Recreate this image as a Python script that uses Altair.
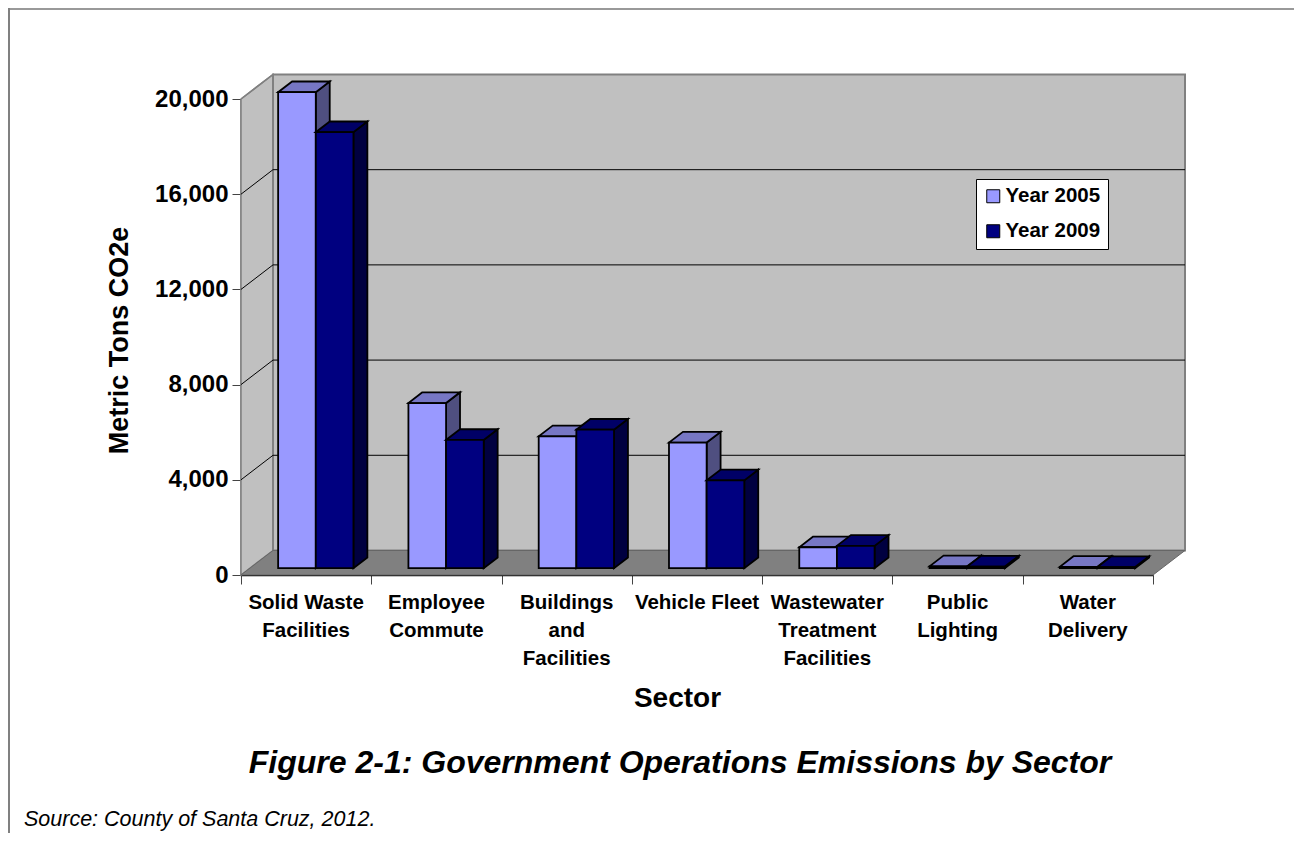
import altair as alt
import pandas as pd

categories = ["Solid Waste\nFacilities", "Employee\nCommute", "Buildings\nand\nFacilities",
              "Vehicle Fleet", "Wastewater\nTreatment\nFacilities", "Public\nLighting", "Water\nDelivery"]
year_2005 = [20000, 6940, 5540, 5280, 880, 80, 60]
year_2009 = [18320, 5390, 5820, 3690, 940, 70, 50]
series_names = ["Year 2005", "Year 2009"]
y_ticks = [0, 4000, 8000, 12000, 16000, 20000]

FONT = "Liberation Sans"
DX, DY = 0.2456, 1030          # depth of the chart box, in axis units
BAR_LEFT, BAR_W = 0.285, 0.289  # bar position inside a category
BAR_DX, BAR_DY = 0.107, 450    # depth of a bar, in axis units
BASE = 285                     # bars stand on the floor, a little behind the front edge
n = len(categories)

front_fill = {"Year 2005": "#9999FF", "Year 2009": "#000080"}
top_fill = {"Year 2005": "#7777C4", "Year 2009": "#000066"}
side_fill = {"Year 2005": "#4F4F80", "Year 2009": "#000040"}

fronts, tops, sides = [], [], []
for s, (name, vals) in enumerate(zip(series_names, [year_2005, year_2009])):
    for i, v in enumerate(vals):
        x0 = i + BAR_LEFT + s * BAR_W
        x1 = x0 + BAR_W
        t = v + BASE
        key = f"{name}-{i}"
        fronts.append(dict(series=name, cat=categories[i], value=v, x0=x0, x1=x1, top=t, base=BASE))
        tops.append(dict(series=name, id=key, y=t, xa=x0, xb=x1))
        tops.append(dict(series=name, id=key, y=t + BAR_DY, xa=x0 + BAR_DX, xb=x1 + BAR_DX))
        sides.append(dict(series=name, id=key, x=x1, ya=t, yb=BASE))
        sides.append(dict(series=name, id=key, x=x1 + BAR_DX, ya=t + BAR_DY, yb=BASE + BAR_DY))
fronts, tops, sides = pd.DataFrame(fronts), pd.DataFrame(tops), pd.DataFrame(sides)

AXIS_X = alt.Axis(values=list(range(n + 1)), labels=False, title="Sector", grid=False,
                  tickSize=9, tickColor="#444444", domainColor="#000000", domainWidth=1.5,
                  titleFont=FONT, titleFontWeight="bold", titleFontSize=28, titleColor="#000000",
                  titleX=436, titleY=109)
AXIS_Y = alt.Axis(values=y_ticks, format=",d", title="Metric Tons CO2e", grid=False,
                  labelFont=FONT, labelFontWeight="bold", labelFontSize=24, labelColor="#000000",
                  labelPadding=4, tickSize=9, tickColor="#444444", domainColor="#444444",
                  domainWidth=2, titleFont=FONT, titleFontWeight="bold", titleFontSize=27,
                  titleColor="#000000", titleX=-108, titleY=241, titleAngle=270)
X = lambda f: alt.X(f, type="quantitative", scale=alt.Scale(domain=[0, n], nice=False, zero=False), axis=AXIS_X)
Y = lambda f: alt.Y(f, type="quantitative", scale=alt.Scale(domain=[0, 20000], nice=False), axis=AXIS_Y, stack=None)

# box
wall_l = pd.DataFrame(dict(x=[0, DX], ya=[20000, 20000 + DY], yb=[0, DY]))
left_wall = alt.Chart(wall_l).mark_area(orient="vertical", color="#C0C0C0", stroke="#808080", strokeWidth=1.5).encode(
    x=X("x"), y=Y("ya"), y2="yb")
back_wall = alt.Chart(pd.DataFrame(dict(a=[DX], b=[n + DX], c=[DY], d=[20000 + DY]))).mark_rect(
    color="#C0C0C0", stroke="#808080", strokeWidth=2).encode(x=X("a"), x2="b", y=Y("c"), y2="d")
floor_d = pd.DataFrame(dict(y=[0, DY], xa=[0, DX], xb=[n, n + DX]))
floor = alt.Chart(floor_d).mark_area(orient="horizontal", color="#808080", stroke="#666666", strokeWidth=1).encode(
    y=Y("y"), x=X("xa"), x2="xb")

# gridlines
grid_vals = [v for v in y_ticks if 0 < v < 20000]
grid_back = alt.Chart(pd.DataFrame(dict(v=[v + DY for v in grid_vals], a=DX, b=n + DX))).mark_rule(
    color="#000000", strokeWidth=1).encode(x=X("a"), x2="b", y=Y("v"))
grid_side_d = pd.DataFrame([dict(id=v, x=x, y=v + d) for v in grid_vals for x, d in [(0, 0), (DX, DY)]])
grid_side = alt.Chart(grid_side_d).mark_line(color="#000000", strokeWidth=1).encode(
    x=X("x"), y=Y("y"), detail="id:N")
top_edge_d = pd.DataFrame([dict(x=0, y=20000), dict(x=DX, y=20000 + DY)])
top_edge = alt.Chart(top_edge_d).mark_line(color="#808080", strokeWidth=1.5).encode(x=X("x"), y=Y("y"))

# bars
color_scale = alt.Scale(domain=series_names, range=[front_fill[s] for s in series_names])
legend = alt.Legend(title=None, orient="none", legendX=735, legendY=80, fillColor="#FFFFFF",
                    strokeColor="#000000", padding=7, symbolType="square", symbolSize=169,
                    symbolStrokeColor="#000000", symbolStrokeWidth=1, labelFont=FONT,
                    labelFontWeight="bold", labelFontSize=20.5, labelColor="#000000", rowPadding=14,
                    symbolOpacity=1, labelLimit=200, labelOffset=2)
bar_layers = []
for name in series_names:
    side = alt.Chart(sides[sides.series == name]).mark_area(
        orient="vertical", color=side_fill[name], stroke="#000000", strokeWidth=1.8).encode(
        x=X("x"), y=Y("ya"), y2="yb", detail="id:N")
    top = alt.Chart(tops[tops.series == name]).mark_area(
        orient="horizontal", color=top_fill[name], stroke="#000000", strokeWidth=1.8).encode(
        y=Y("y"), x=X("xa"), x2="xb", detail="id:N")
    front = alt.Chart(fronts[fronts.series == name]).mark_rect(
        stroke="#000000", strokeWidth=1.8, opacity=1).encode(
        x=X("x0"), x2="x1", y=Y("top"), y2="base",
        fill=alt.Fill("series:N", scale=color_scale, legend=legend))
    bar_layers += [side, top, front]

labels_d = pd.DataFrame(dict(x=[i + 0.5 for i in range(n)], y=0, label=categories))
labels = alt.Chart(labels_d).mark_text(font=FONT, fontWeight="bold", fontSize=20.5, color="#000000",
                                        baseline="top", align="center", lineBreak="\n", lineHeight=28, dy=18).encode(
    x=X("x"), y=Y("y"), text="label:N")

source = alt.Chart(pd.DataFrame(dict(t=["Source: County of Santa Cruz, 2012."]))).mark_text(
    font=FONT, fontStyle="italic", fontSize=21.5, color="#000000", align="left", baseline="middle").encode(
    x=alt.value(-217), y=alt.value(721), text="t:N")
fig_title = alt.Chart(pd.DataFrame(dict(t=["Figure 2-1: Government Operations Emissions by Sector"]))).mark_text(
    font=FONT, fontStyle="italic", fontWeight="bold", fontSize=32, color="#000000", align="center",
    baseline="middle").encode(x=alt.value(439), y=alt.value(664), text="t:N")

# outer frame
frame_top = alt.Chart(pd.DataFrame(dict(a=[0]))).mark_rule(color="#999999", strokeWidth=2).encode(
    x=alt.value(-233), x2=alt.value(1053), y=alt.value(-90))
frame_left = alt.Chart(pd.DataFrame(dict(a=[0]))).mark_rule(color="#808080", strokeWidth=2).encode(
    x=alt.value(-232), y=alt.value(-91), y2=alt.value(734))

chart = alt.layer(frame_top, frame_left, left_wall, back_wall, floor, grid_back, grid_side, top_edge,
                  *bar_layers, labels, source, fig_title).resolve_scale(x="shared", y="shared").properties(
    width=912, height=476,
    padding={"left": 233, "top": 91, "right": 141, "bottom": 258},
    autosize=alt.AutoSizeParams(type="none"),
    background="#FFFFFF",
).configure_view(stroke=None)

chart.save("out.html", embed_options={"renderer": "svg", "actions": False})
